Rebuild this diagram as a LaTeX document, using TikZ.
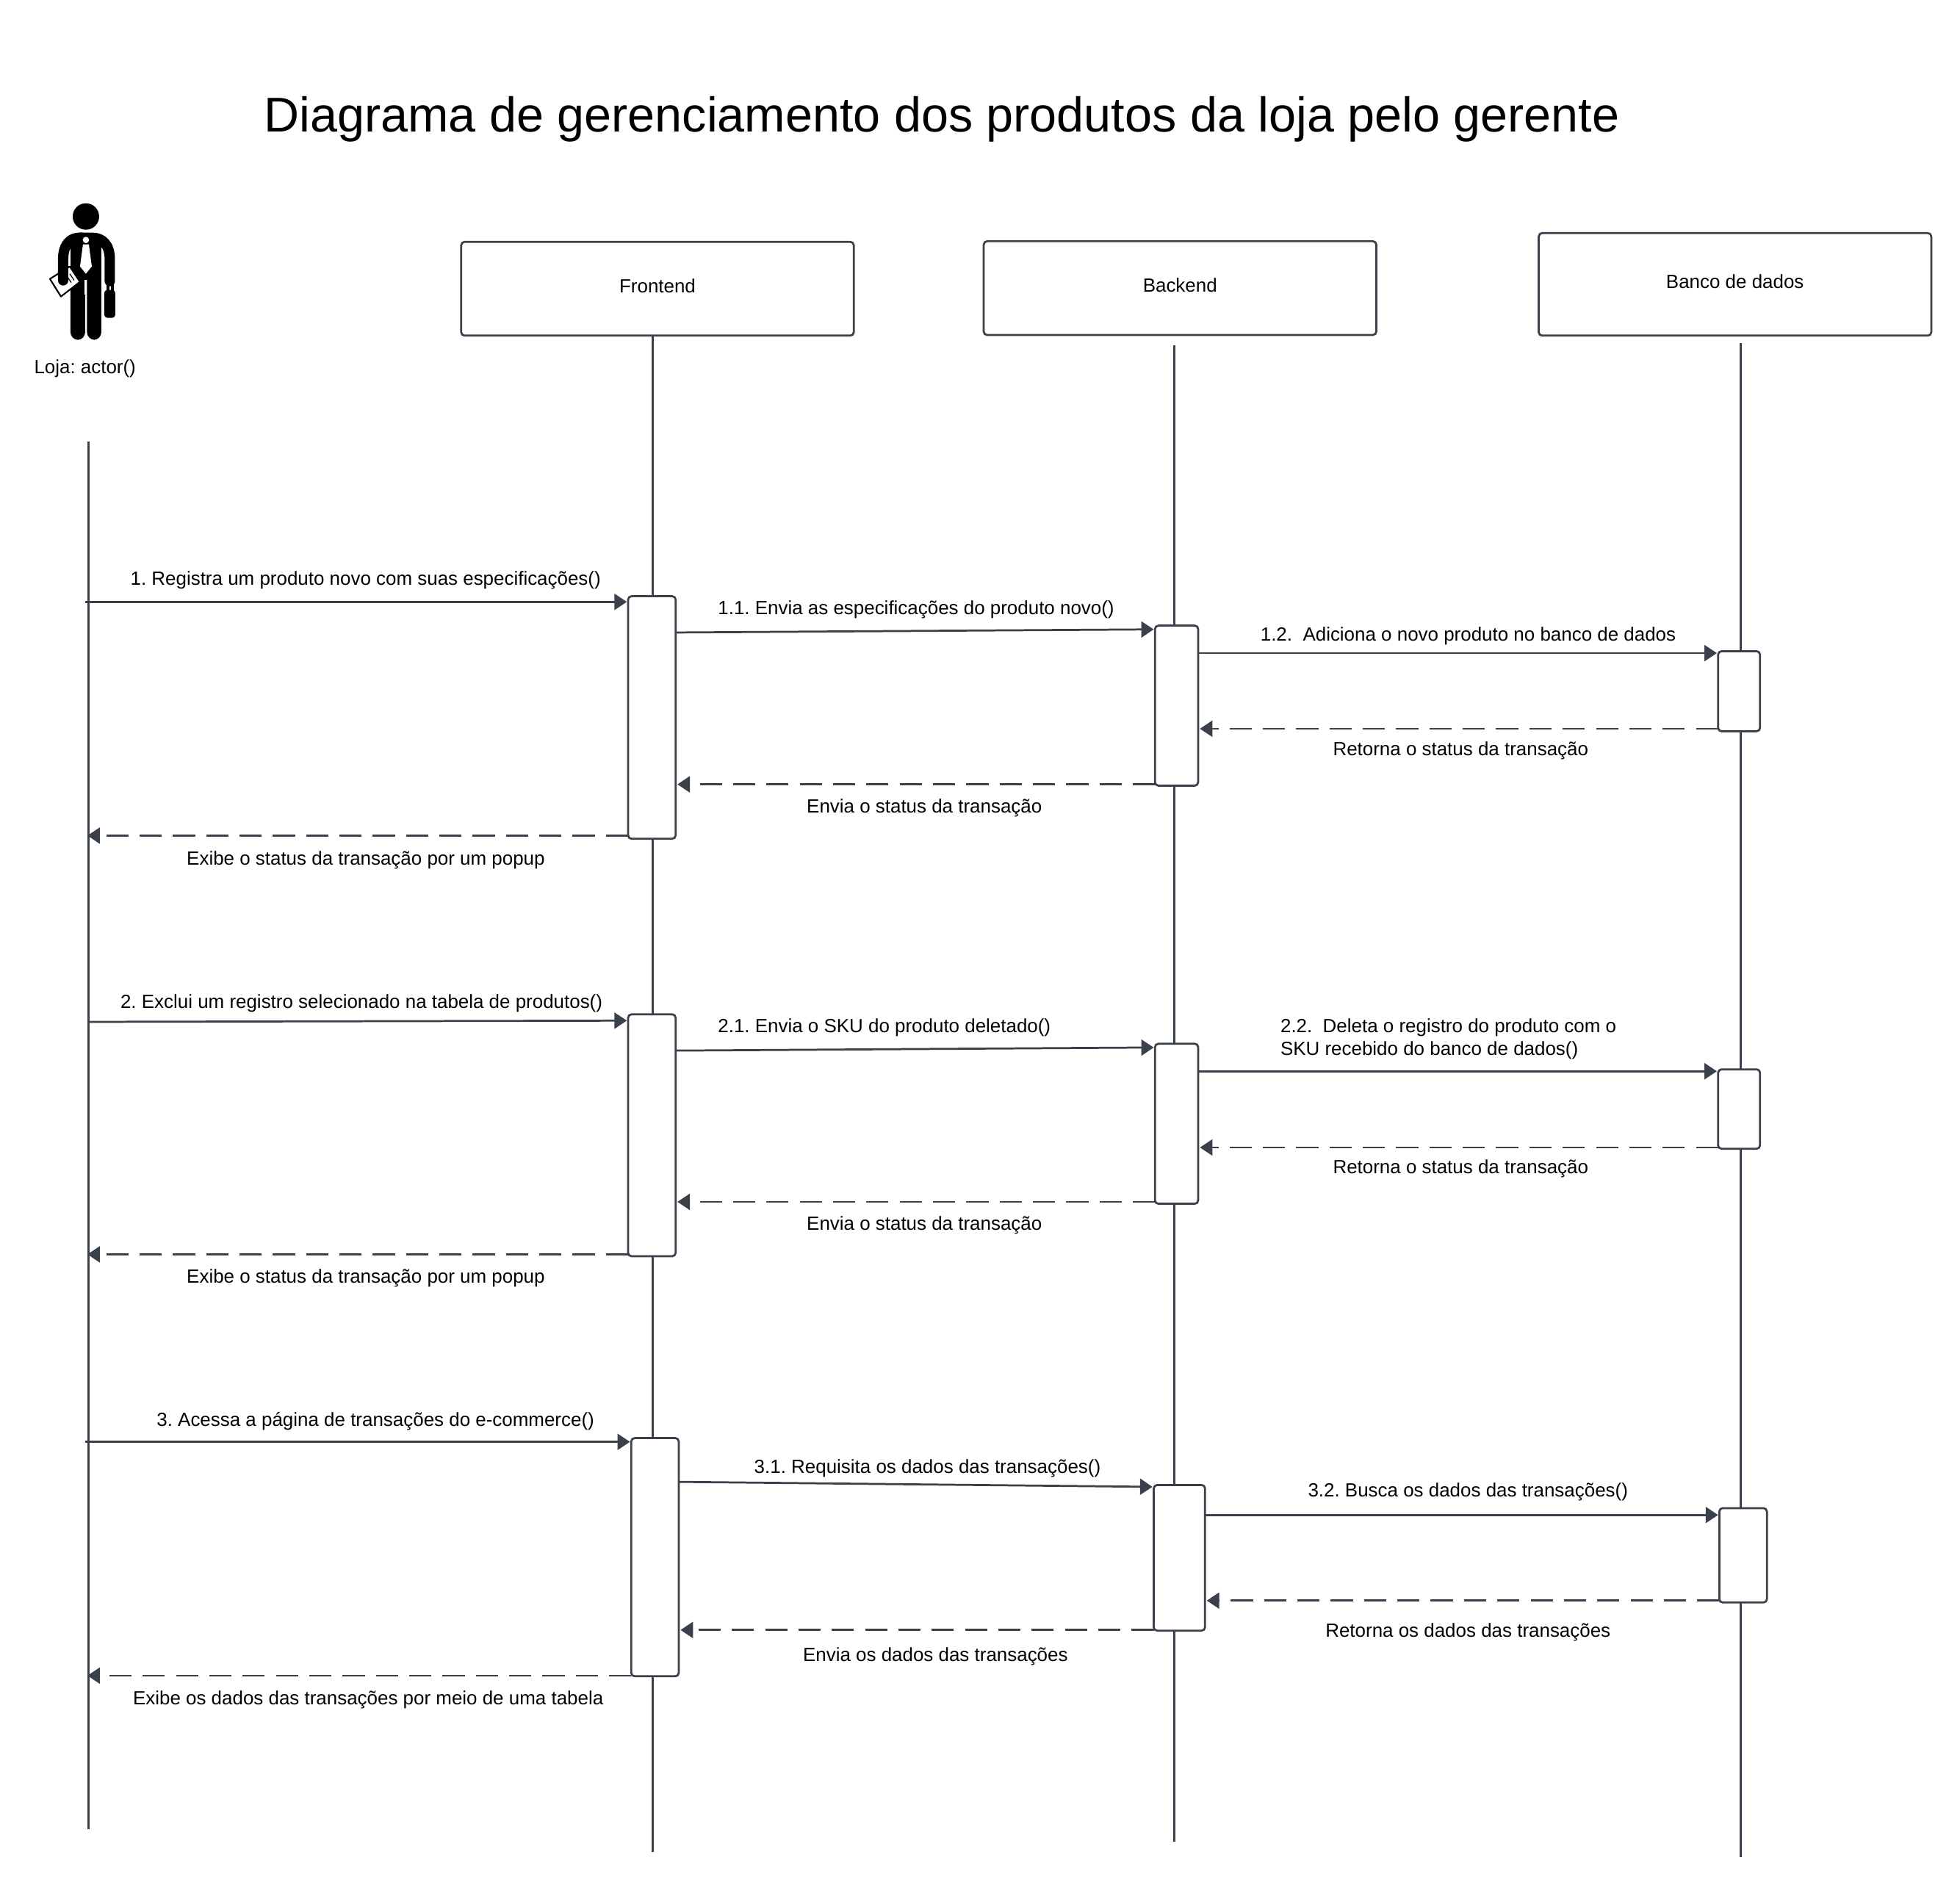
\documentclass[tikz,border=0pt]{standalone}
\usepackage{fontspec}
\setmainfont{Liberation Sans}
\usetikzlibrary{arrows.meta}
\definecolor{ln}{HTML}{3A414A}
\tikzset{
  wire/.style={draw=ln,line width=0.78pt},
  lifeline/.style={wire},
  msg/.style={wire,-{Triangle[length=4.8pt,width=6.2pt]},shorten >=0.5pt},
  ret/.style={msg,dash pattern=on 8.6pt off 4.3pt,shorten >=0.7pt},
  retactor/.style={ret,shorten >=-0.5pt},
  head/.style={wire,fill=white,rounded corners=1.3pt,inner sep=0pt,outer sep=0pt,font=\fontsize{7.38pt}{9pt}\selectfont,text=black},
  actbox/.style={head},
  lab/.style={anchor=west,inner sep=0pt,font=\fontsize{7.38pt}{9pt}\selectfont,text=black,yshift=-0.55pt},
  ttl/.style={anchor=west,inner sep=0pt,font=\fontsize{18.92pt}{23pt}\selectfont,text=black},
  arm/.style={black,line width=4pt,line cap=round,line join=round},
}
\newcommand\bx[7]{\pgfmathsetmacro\wbx{(#5-#3)*0.017015}\pgfmathsetmacro\hbx{(#6-#4)*0.017015}%
  \node[#1,minimum width=\wbx cm,minimum height=\hbx cm] (#2) at ({(#3+#5)/2},{(#4+#6)/2}) {\raisebox{2.2pt}{#7}};}
\begin{document}
\frenchspacing
\begin{tikzpicture}[x=0.017015cm,y=-0.017015cm]
\useasboundingbox (0,-0.5) rectangle (1568,1509.5);
\fill[white] (0,-0.5) rectangle (1568,1509.5);
\node[ttl] (title) at (211,95) {Diagrama de gerenciamento dos produtos da loja pelo gerente};

% actor figure (full-size pixel coordinates)
\begin{scope}[x=0.01cm,y=-0.01cm]
  \fill[black] (117,294) circle (18);
  \draw[arm] (149.5,382) -- (149.5,352) .. controls (149.5,332) and (139,323) .. (126,323) -- (108,323);
  \fill[black] (96,322) rectangle (138,380);
  \fill[black,rounded corners=3pt] (96,370) -- (96,462) -- (116,462) -- (116,370) -- cycle;
  \fill[black,rounded corners=3pt] (118.5,370) -- (118.5,462) -- (138,462) -- (138,370) -- cycle;
  \fill[black] (96,350) rectangle (138,380);
  \fill[white] (115.5,380) rectangle (118.5,400);
  \fill[black,rounded corners=1.2pt] (142,394) rectangle (157,432);
  \draw[black,line width=1pt] (147,382) -- (147,395) (153,384) -- (153,395);
  \draw[black,line width=0.6pt,fill=white,line join=round] (68,379) -- (95,362) -- (109,383) -- (83,403) -- cycle;
  \draw[black,line width=0.35pt] (95,372) -- (101,381) (91,375) -- (97,384);
  \draw[arm] (86,381) -- (86,352) .. controls (86,332) and (96,323) .. (108,323) -- (112,323);
  \fill[white] (117,326) circle (4.3);
  \fill[white] (113,332) -- (121,332) -- (125,362) -- (117,372) -- (109,362) -- cycle;
\end{scope}
\node[lab,anchor=center] (actor) at (68,293) {Loja: actor()};

\coordinate (al) at (71,353);
\coordinate (alend) at (71,1463);
\coordinate (fl) at (522,268);
\coordinate (flend) at (522,1481);
\coordinate (bl) at (939.3,276);
\coordinate (blend) at (939.3,1473);
\coordinate (dl) at (1392.5,274);
\coordinate (dlend) at (1392.5,1485);

\draw[lifeline] (al) -- (alend);
\draw[lifeline] (fl) -- (flend);
\draw[lifeline] (bl) -- (blend);
\draw[lifeline] (dl) -- (dlend);

\bx{head}{fr}{369}{193}{683}{268}{Frontend}
\bx{head}{be}{787}{192.5}{1101}{267.5}{Backend}
\bx{head}{db}{1231}{186}{1545}{268}{Banco de dados}

\bx{actbox}{f1}{502.5}{476.5}{540.5}{670.5}{}
\bx{actbox}{b1}{924}{500}{958.5}{628}{}
\bx{actbox}{d1}{1374.5}{520.5}{1408}{584.5}{}
\bx{actbox}{f2}{502.5}{811}{540.5}{1004.5}{}
\bx{actbox}{b2}{924}{834.5}{958.5}{962.5}{}
\bx{actbox}{d2}{1374.5}{855}{1408}{918.5}{}
\bx{actbox}{f3}{505}{1150}{543}{1340.5}{}
\bx{actbox}{b3}{923}{1187.5}{964}{1304}{}
\bx{actbox}{d3}{1375.5}{1206}{1413.5}{1281.5}{}

\coordinate (s1) at (68,481);
\coordinate (s2) at (70,817);
\coordinate (s3) at (68,1153);

% group 1
\draw[msg] (s1) -- (f1.west |- 0,481);
\draw[msg] (f1.east |- 0,505.5) -- (b1.west |- 0,503);
\draw[msg] (b1.east |- 0,522) -- (d1.west |- 0,522);
\draw[ret] (d1.west |- 0,582.5) -- (b1.east |- 0,582.5);
\draw[ret] (b1.west |- 0,627) -- (f1.east |- 0,627);
\draw[retactor] (f1.west |- 0,668) -- (al |- 0,668);
% group 2
\draw[msg] (s2) -- (f2.west |- 0,816);
\draw[msg] (f2.east |- 0,840) -- (b2.west |- 0,837.5);
\draw[msg] (b2.east |- 0,856.5) -- (d2.west |- 0,856.5);
\draw[ret] (d2.west |- 0,917.5) -- (b2.east |- 0,917.5);
\draw[ret] (b2.west |- 0,961) -- (f2.east |- 0,961);
\draw[retactor] (f2.west |- 0,1003) -- (al |- 0,1003);
% group 3
\draw[msg] (s3) -- (f3.west |- 0,1153);
\draw[msg] (f3.east |- 0,1185) -- (b3.west |- 0,1189);
\draw[msg] (b3.east |- 0,1211.5) -- (d3.west |- 0,1211.5);
\draw[ret] (d3.west |- 0,1280) -- (b3.east |- 0,1280);
\draw[ret] (b3.west |- 0,1303.5) -- (f3.east |- 0,1303.5);
\draw[retactor] (f3.west |- 0,1340) -- (al |- 0,1340);

% labels
\node[lab] (l1) at (104,462.5) {1. Registra um produto novo com suas especificações()};
\node[lab] (l11) at (574,486) {1.1. Envia as especificações do produto novo()};
\node[lab] (l12) at (1008,507) {1.2.\ \ Adiciona o novo produto no banco de dados};
\node[lab] (l13) at (1066,599) {Retorna o status da transação};
\node[lab] (l14) at (645,644.5) {Envia o status da transação};
\node[lab] (l15) at (149,686.5) {Exibe o status da transação por um popup};
\node[lab] (l2) at (96,801) {2. Exclui um registro selecionado na tabela de produtos()};
\node[lab] (l21) at (574,820.5) {2.1. Envia o SKU do produto deletado()};
\node[lab] (l22a) at (1024,820.5) {2.2.\ \ Deleta o registro do produto com o};
\node[lab] (l22b) at (1024,838.5) {SKU recebido do banco de dados()};
\node[lab] (l23) at (1066,933.5) {Retorna o status da transação};
\node[lab] (l24) at (645,978.5) {Envia o status da transação};
\node[lab] (l25) at (149,1021) {Exibe o status da transação por um popup};
\node[lab] (l3) at (125,1135.5) {3. Acessa a página de transações do e-commerce()};
\node[lab] (l31) at (603,1173) {3.1. Requisita os dados das transações()};
\node[lab] (l32) at (1046,1192) {3.2. Busca os dados das transações()};
\node[lab] (l33) at (1060,1304) {Retorna os dados das transações};
\node[lab] (l34) at (642,1323.5) {Envia os dados das transações};
\node[lab] (l35) at (106,1358.5) {Exibe os dados das transações por meio de uma tabela};
\end{tikzpicture}
\end{document}
